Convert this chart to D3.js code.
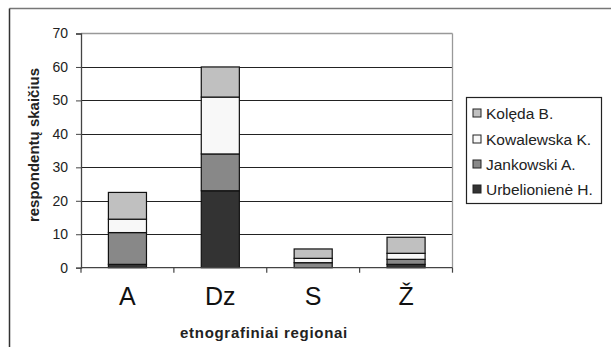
<!DOCTYPE html>
<html><head><meta charset="utf-8">
<script src="https://cdn.jsdelivr.net/npm/d3@7"></script>
<style>body{margin:0;background:#fff}svg{display:block}text{font-family:"Liberation Sans",Arial,sans-serif}</style>
</head><body><svg id="c" width="611" height="347"></svg>
<script>
const categories = ["A","Dz","S","Ž"];
const seriesNames = ["Urbelionienė H.","Jankowski A.","Kowalewska K.","Kolęda B."];
const urbelioniene = [1, 23, 0, 1];
const jankowski = [9.5, 11, 1.5, 1.5];
const kowalewska = [4, 17, 1.3, 1.8];
const koleda = [8, 9, 2.8, 4.8];
const yTicks = [0,10,20,30,40,50,60,70];
const colors = ["#333333","#888888","#f8f8f8","#c0c0c0"];

const svg = d3.select("#c");
// outer frame (top & left visible)
svg.append("line").attr("x1",9.5).attr("x2",611).attr("y1",8.5).attr("y2",8.5).attr("stroke","#777").attr("stroke-width",1.5);
svg.append("line").attr("x1",9.5).attr("x2",9.5).attr("y1",8.5).attr("y2",347).attr("stroke","#333").attr("stroke-width",1.5);

const L=81, R=452.5, T=33.5, B=267.7;
const x = d3.scaleBand().domain(categories).range([L,R]).padding(0);
const y = d3.scaleLinear().domain([0,70]).range([B,T]);

// gridlines
svg.append("g").selectAll("line").data(yTicks.filter(d=>d>0&&d<70)).join("line")
  .attr("x1",L).attr("x2",R).attr("y1",d=>Math.round(y(d))+0.5).attr("y2",d=>Math.round(y(d))+0.5)
  .attr("stroke","#222").attr("stroke-width",1.2);
svg.append("line").attr("x1",L).attr("x2",R).attr("y1",y(70)).attr("y2",y(70)).attr("stroke","#999").attr("stroke-width",1.3);
svg.append("line").attr("x1",R).attr("x2",R).attr("y1",y(70)).attr("y2",B).attr("stroke","#999").attr("stroke-width",1.3);

// stacked data
const rows = categories.map((c,i)=>({cat:c, s0:urbelioniene[i], s1:jankowski[i], s2:kowalewska[i], s3:koleda[i]}));
const stack = d3.stack().keys(["s0","s1","s2","s3"])(rows);
const bw = x.bandwidth()*0.41;
stack.forEach((layer,k)=>{
  svg.append("g").selectAll("rect").data(layer.filter(d=>d[1]-d[0]>0)).join("rect")
    .attr("x",d=>x(d.data.cat)+x.bandwidth()/2-bw/2)
    .attr("width",bw)
    .attr("y",d=>y(d[1]))
    .attr("height",d=>y(d[0])-y(d[1]))
    .attr("fill",colors[k]).attr("stroke","#111").attr("stroke-width",1.2);
});

// y axis
const ya = svg.append("g").attr("transform",`translate(${L},0)`)
  .call(d3.axisLeft(y).tickValues(yTicks).tickSize(5).tickPadding(8));
ya.select(".domain").attr("stroke","#444").attr("stroke-width",1.3);
ya.selectAll(".tick line").attr("stroke","#444");
ya.selectAll("text").attr("font-size",14).attr("fill","#222").attr("font-family","Liberation Sans, Arial");

// x axis
svg.append("line").attr("x1",L).attr("x2",R).attr("y1",B).attr("y2",B).attr("stroke","#444").attr("stroke-width",1.3);
const bounds = categories.map(c=>x(c)).concat([R]);
svg.append("g").selectAll("line").data(bounds).join("line")
  .attr("x1",d=>d).attr("x2",d=>d).attr("y1",B).attr("y2",B+5).attr("stroke","#444").attr("stroke-width",1.2);
svg.append("g").selectAll("text").data(categories).join("text")
  .attr("x",d=>x(d)+x.bandwidth()/2).attr("y",305).attr("text-anchor","middle")
  .attr("font-size",25).attr("fill","#111").text(d=>d);

// axis titles
svg.append("text").attr("x",264).attr("y",338).attr("text-anchor","middle")
  .attr("font-size",15).attr("font-weight","bold").attr("letter-spacing",0.7).attr("fill","#222").text("etnografiniai regionai");
svg.append("text").attr("transform","translate(39,145) rotate(-90)").attr("text-anchor","middle")
  .attr("font-size",15).attr("font-weight","bold").attr("fill","#222").text("respondentų skaičius");

// legend
const lg = svg.append("g");
lg.append("rect").attr("x",466.5).attr("y",97.5).attr("width",135).attr("height",106)
  .attr("fill","#fff").attr("stroke","#222").attr("stroke-width",1.2);
const legOrder = [3,2,1,0];
const legY = [113,139,164,189];
legOrder.forEach((k,i)=>{
  lg.append("rect").attr("x",473).attr("y",legY[i]-4).attr("width",8).attr("height",8)
    .attr("fill",colors[k]).attr("stroke","#222").attr("stroke-width",1);
  lg.append("text").attr("x",486).attr("y",legY[i]+5.5).attr("font-size",15.5).attr("fill","#222").text(seriesNames[k]);
});
</script></body></html>
